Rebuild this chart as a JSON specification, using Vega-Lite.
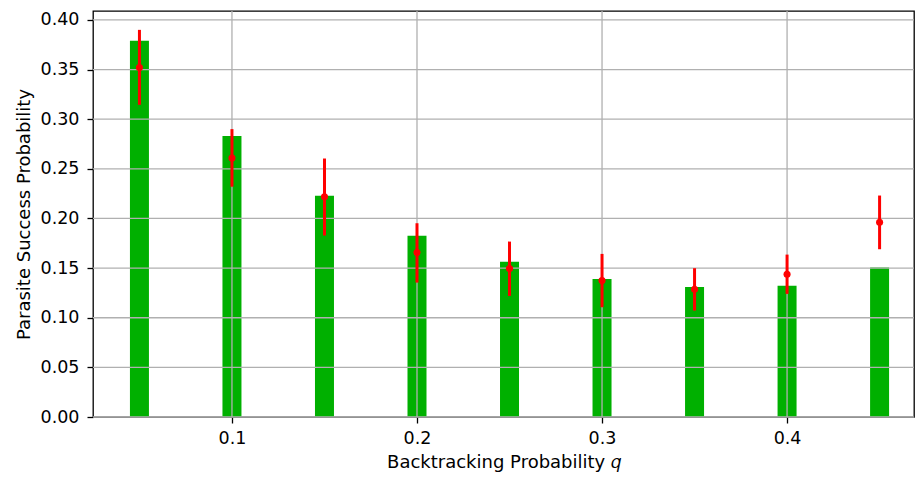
{
  "$schema": "https://vega.github.io/schema/vega-lite/v6.json",
  "autosize": "none",
  "width": 821,
  "height": 406,
  "padding": {"left": 93, "top": 11, "right": 1, "bottom": 61},
  "background": "white",
  "config": {
    "font": "DejaVu Sans",
    "view": {"stroke": "black", "strokeWidth": 1.3},
    "axis": {
      "grid": false,
      "domain": false,
      "tickColor": "black",
      "tickWidth": 1.3,
      "tickSize": 6,
      "labelColor": "black",
      "labelFont": "DejaVu Sans",
      "labelFontSize": 17.5,
      "titleFont": "DejaVu Sans",
      "titleFontSize": 18,
      "titleFontWeight": "normal",
      "titleColor": "black"
    }
  },
  "datasets": {
    "bars": [
      {"q": 0.05, "mean": 0.379, "point": 0.352, "lo": 0.3145, "hi": 0.390},
      {"q": 0.10, "mean": 0.283, "point": 0.261, "lo": 0.232, "hi": 0.290},
      {"q": 0.15, "mean": 0.2228, "point": 0.2218, "lo": 0.1828, "hi": 0.2604},
      {"q": 0.20, "mean": 0.1825, "point": 0.1656, "lo": 0.1354, "hi": 0.1952},
      {"q": 0.25, "mean": 0.1563, "point": 0.1495, "lo": 0.122, "hi": 0.1767},
      {"q": 0.30, "mean": 0.1391, "point": 0.1374, "lo": 0.1106, "hi": 0.1643},
      {"q": 0.35, "mean": 0.1310, "point": 0.1287, "lo": 0.1072, "hi": 0.1499},
      {"q": 0.40, "mean": 0.1321, "point": 0.1438, "lo": 0.124, "hi": 0.1636},
      {"q": 0.45, "mean": 0.1505, "point": 0.1962, "lo": 0.1690, "hi": 0.2231}
    ],
    "ygrid": [
      {"v": 0.0}, {"v": 0.05}, {"v": 0.10}, {"v": 0.15}, {"v": 0.20},
      {"v": 0.25}, {"v": 0.30}, {"v": 0.35}, {"v": 0.40}
    ],
    "xgrid": [
      {"v": 0.1}, {"v": 0.2}, {"v": 0.3}, {"v": 0.4}
    ]
  },
  "layer": [
    {
      "data": {"name": "bars"},
      "mark": {"type": "bar", "color": "#00b000", "width": 19},
      "encoding": {
        "x": {
          "field": "q", "type": "quantitative",
          "scale": {"domain": [0.0249, 0.4686], "nice": false, "zero": false, "padding": 0},
          "axis": {"values": [0.1, 0.2, 0.3, 0.4], "format": ".1f", "title": "Backtracking Probability 𝑞", "labelPadding": 6, "titlePadding": 7}
        },
        "y": {
          "field": "mean", "type": "quantitative",
          "scale": {"domain": [0, 0.409], "nice": false, "padding": 0},
          "axis": {"values": [0, 0.05, 0.1, 0.15, 0.2, 0.25, 0.3, 0.35, 0.4], "format": ".2f", "title": "Parasite Success Probability", "labelPadding": 8, "titlePadding": 7}
        }
      }
    },
    {
      "data": {"name": "ygrid"},
      "mark": {"type": "rule", "color": "#b0b0b0", "strokeWidth": 1.3},
      "encoding": {"y": {"field": "v", "type": "quantitative"}}
    },
    {
      "data": {"name": "xgrid"},
      "mark": {"type": "rule", "color": "#b0b0b0", "strokeWidth": 1.3},
      "encoding": {"x": {"field": "v", "type": "quantitative"}}
    },
    {
      "data": {"name": "bars"},
      "mark": {"type": "rule", "color": "#ff0000", "strokeWidth": 3},
      "encoding": {
        "x": {"field": "q", "type": "quantitative"},
        "y": {"field": "lo", "type": "quantitative"},
        "y2": {"field": "hi"}
      }
    },
    {
      "data": {"name": "bars"},
      "mark": {"type": "point", "filled": true, "shape": "circle", "color": "#ff0000", "opacity": 1, "size": 50},
      "encoding": {
        "x": {"field": "q", "type": "quantitative"},
        "y": {"field": "point", "type": "quantitative"}
      }
    }
  ]
}
